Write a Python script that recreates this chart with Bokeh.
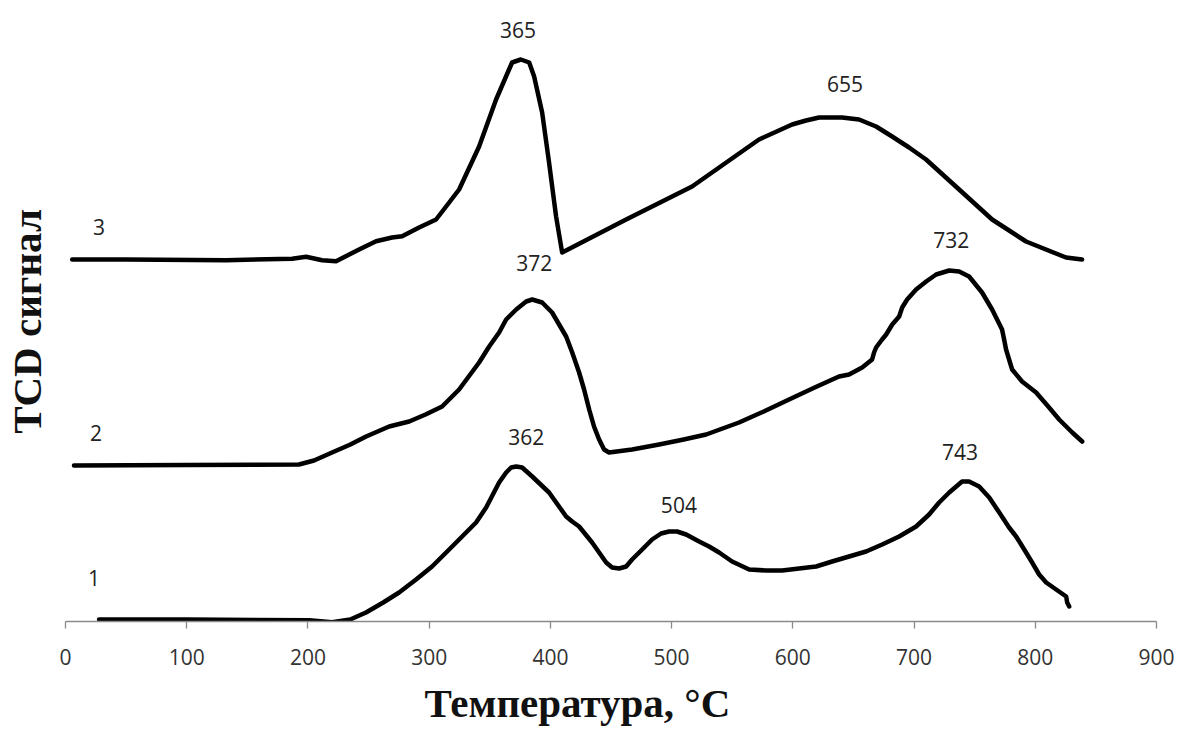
from bokeh.plotting import figure
from bokeh.models import Range1d, FixedTicker, Title
from bokeh.core.properties import value
from bokeh.embed import file_html
from bokeh.resources import INLINE

# Curve 1 (bottom)
t1 = [27.7, 100, 200.9, 219.9, 234.9, 247.9, 262.1, 275.2, 289.2, 302.4, 316.5, 327.2, 338.7,
      347.0, 357.7, 363.5, 367.6, 371.8, 376.7, 385.0, 398.9, 413.0, 418.0, 423.7, 434.4, 446.0,
      450.9, 456.7, 462.5, 467.4, 475.7, 483.9, 491.3, 497.9, 504.5, 512.0, 522.7, 530.9, 539.2,
      549.9, 564.0, 577.9, 591.2, 605.2, 619.2, 632.4, 646.4, 660.4, 673.7, 687.7, 701.7, 712.4,
      720.7, 729.0, 734.8, 739.6, 745.4, 753.7, 762.0, 770.3, 778.4, 784.2, 792.4, 797.4, 803.2,
      809.0, 817.2, 825.5, 826.3, 828.0]
s1 = [2, 2, 1.3, -0.7, 2, 9, 19, 29, 42, 55, 72, 85, 99,
      114, 139, 149, 154, 155, 154, 145, 129, 105, 100, 95, 79, 59,
      54, 53, 55, 62, 72, 82, 88, 90, 90, 87, 80, 75, 69,
      60, 52, 51, 51, 53, 55, 60, 65, 70, 77, 85, 95, 107,
      119, 129, 135, 140, 140, 135, 124, 109, 94, 85, 69, 59, 47,
      39, 32, 25, 19, 15]

# Curve 2 (middle)
t2 = [7, 100, 192.6, 205.0, 219.9, 235.0, 248.0, 267.0, 283.5, 297.0, 310.7, 324.7, 341.2,
      349.5, 357.7, 363.5, 371.8, 380.0, 385.0, 393.2, 401.4, 413.0, 418.0, 423.7, 427.8, 432.0,
      436.0, 440.2, 444.3, 448.4, 467.4, 489.7, 510.0, 528.5, 555.6, 576.0, 596.9, 618.0, 638.1,
      646.4, 657.2, 665.4, 667.0, 668.7, 673.6, 677.0, 682.0, 687.7, 690.2, 694.3, 701.7, 710.0,
      718.2, 729.0, 737.2, 745.4, 756.1, 764.4, 772.6, 774.3, 775.9, 778.4, 780.9, 789.1, 800.7,
      811.4, 819.7, 830.5, 838.7]
s2 = [156, 156.5, 157, 161, 169, 177, 185, 195, 200, 207, 215, 232, 259,
      275, 289, 302, 312, 320, 322, 319, 309, 285, 269, 249, 232, 212,
      195, 182, 172, 169, 172, 177, 182, 187, 199, 210, 222, 234, 245,
      247, 254, 262, 269, 274, 282, 287, 297, 305, 314, 322, 332, 340,
      347, 351, 350, 345, 329, 312, 292, 282, 272, 262, 252, 240, 229,
      214, 202, 189, 180]

# Curve 3 (top)
t3 = [5.5, 50, 132.5, 187.0, 198.5, 211.7, 223.2, 242.2, 256.2, 269.4, 277.7, 291.7, 305.7,
      316.5, 324.7, 341.2, 355.2, 365.9, 368.4, 375.6, 382.5, 386.6, 393.2, 398.9, 404.7, 409.7,
      462.5, 516.9, 572.1, 599.4, 610.9, 621.7, 640.6, 654.6, 668.7, 681.9, 695.9, 709.9, 737.2,
      764.4, 792.4, 825.4, 838.6]
s3 = [362, 362, 361.3, 362.7, 364.7, 361.3, 360.3, 372, 380.3, 384, 385.3, 394, 402,
      419, 432, 475, 522, 552, 559, 562, 559, 545, 509, 459, 405, 369,
      402, 435, 482, 497, 501, 504, 504, 502, 495, 485, 474, 462, 432,
      402, 380, 364, 362]

# Annotations
series_names = ["1", "2", "3"]
series_lx = [23.6, 25.2, 27.7]
series_ly = [44, 189, 395]

peak_labels = ["362", "504", "743", "372", "732", "365", "655"]
peak_lx = [380.0, 506.0, 738.0, 386.6, 730.6, 373.3, 643.0]
peak_ly = [185, 117, 170, 359, 382, 592, 538]

x_ticks = [0, 100, 200, 300, 400, 500, 600, 700, 800, 900]
x_title = "Температура, °C"
y_title = "TCD сигнал"

p = figure(width=1178, height=735, output_backend="svg", toolbar_location=None,
           x_range=Range1d(0, 900), y_range=Range1d(0, 600),
           min_border_left=65, min_border_right=22, min_border_top=21, min_border_bottom=114)
p.outline_line_color = None
p.xgrid.visible = False
p.ygrid.visible = False
p.background_fill_color = "white"
p.border_fill_color = "white"

for t, s in ((t1, s1), (t2, s2), (t3, s3)):
    p.line(t, s, line_color="black", line_width=4.5, line_join="round", line_cap="round")

p.text(x=series_lx, y=series_ly, text=series_names, text_font=value("Open Sans"),
       text_font_size="21px", text_color="#222222", text_align="center", text_baseline="middle")
p.text(x=peak_lx, y=peak_ly, text=peak_labels, text_font=value("Open Sans"),
       text_font_size="21px", text_color="#222222", text_align="center", text_baseline="middle")

xa = p.xaxis[0]
xa.ticker = FixedTicker(ticks=x_ticks)
xa.axis_line_color = "#8a8a8a"
xa.axis_line_width = 1.3
xa.major_tick_line_color = "#8a8a8a"
xa.major_tick_line_width = 1.3
xa.major_tick_in = 0
xa.major_tick_out = 7
xa.minor_tick_line_color = None
xa.major_label_text_font = "Open Sans"
xa.major_label_text_font_size = "21px"
xa.major_label_text_color = "#333333"
xa.major_label_standoff = 20

ya = p.yaxis[0]
ya.ticker = FixedTicker(ticks=[])
ya.axis_line_color = None
ya.major_tick_line_color = None
ya.minor_tick_line_color = None
ya.axis_label = y_title
ya.axis_label_text_font = "Liberation Serif"
ya.axis_label_text_font_style = "bold"
ya.axis_label_text_font_size = "41px"
ya.axis_label_text_color = "#111111"
ya.axis_label_standoff = 16

p.add_layout(Title(text=x_title, align="left", offset=359, standoff=20,
                   text_font="Liberation Serif", text_font_style="bold",
                   text_font_size="41px", text_color="#111111"), "below")

open("out.html", "w").write(file_html(p, INLINE))
